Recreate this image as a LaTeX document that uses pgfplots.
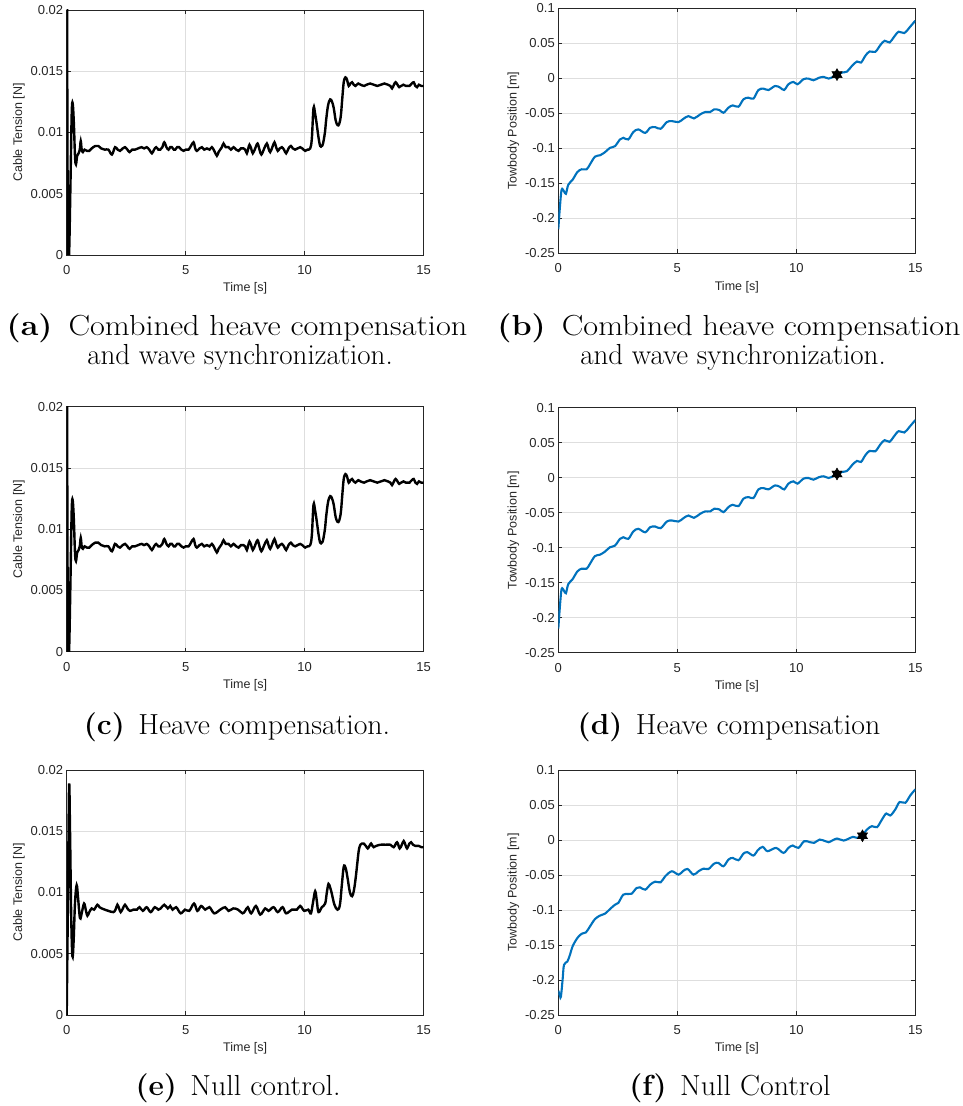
\documentclass[border=0pt]{standalone}
\usepackage{pgfplots}
\pgfplotsset{compat=1.18}
\usepackage{pgfplotstable}
\usepackage{fontspec}
\newfontfamily\arial{Liberation Sans}
\definecolor{mblue}{rgb}{0,0.447,0.741}
\definecolor{axgray}{rgb}{0.15,0.15,0.15}
\definecolor{gridgray}{rgb}{0.87,0.87,0.87}

\pgfdeclareplotmark{hexagram}{%
  \pgfpathmoveto{\pgfqpointpolar{90}{\pgfplotmarksize}}%
  \pgfpathlineto{\pgfqpointpolar{210}{\pgfplotmarksize}}%
  \pgfpathlineto{\pgfqpointpolar{330}{\pgfplotmarksize}}%
  \pgfpathclose
  \pgfpathmoveto{\pgfqpointpolar{270}{\pgfplotmarksize}}%
  \pgfpathlineto{\pgfqpointpolar{30}{\pgfplotmarksize}}%
  \pgfpathlineto{\pgfqpointpolar{150}{\pgfplotmarksize}}%
  \pgfpathclose
  \pgfusepathqfillstroke
}

\pgfplotstableread{
t v
0 0.032
0.05 0.0
0.1 0.0
0.16 0.006
0.21 0.0115
0.25 0.0124
0.3 0.0108
0.35 0.0080
0.39 0.0074
0.44 0.0081
0.5 0.0083
0.55 0.0086
0.59 0.0093
0.63 0.0086
0.68 0.0084
0.75 0.0086
0.85 0.0085
0.95 0.0085
1.05 0.0087
1.2 0.0089
1.33 0.0089
1.45 0.0087
1.6 0.0086
1.75 0.0086
1.9 0.0082
2.03 0.0088
2.14 0.0086
2.24 0.0085
2.35 0.0087
2.45 0.0088
2.55 0.0086
2.64 0.0084
2.75 0.0086
2.87 0.0086
3.0 0.0087
3.15 0.0088
3.25 0.0087
3.36 0.0088
3.47 0.0086
3.58 0.0083
3.67 0.0086
3.76 0.0088
3.85 0.0086
3.93 0.0086
4.02 0.0088
4.1 0.0092
4.19 0.0088
4.28 0.0086
4.35 0.0088
4.42 0.0088
4.5 0.0086
4.56 0.0086
4.64 0.0088
4.72 0.0088
4.82 0.0086
4.91 0.0085
5.0 0.0086
5.12 0.0086
5.22 0.0089
5.33 0.0092
5.4 0.0087
5.47 0.0085
5.58 0.0087
5.68 0.0088
5.78 0.0086
5.89 0.0087
6.0 0.0086
6.1 0.0088
6.2 0.0085
6.31 0.0081
6.38 0.0084
6.45 0.0086
6.52 0.0088
6.59 0.0091
6.68 0.0088
6.8 0.0088
6.9 0.0086
7.01 0.0088
7.12 0.0086
7.22 0.0085
7.32 0.0087
7.43 0.0087
7.5 0.0086
7.57 0.0083
7.63 0.0087
7.68 0.0090
7.75 0.0087
7.82 0.0083
7.92 0.0087
8.02 0.0091
8.1 0.0086
8.18 0.0082
8.3 0.0087
8.41 0.0091
8.48 0.0087
8.55 0.0084
8.64 0.0088
8.73 0.0092
8.8 0.0088
8.87 0.0085
8.95 0.0087
9.04 0.0088
9.13 0.0086
9.22 0.0083
9.32 0.0087
9.42 0.0089
9.5 0.0087
9.6 0.0086
9.7 0.0087
9.81 0.0088
9.9 0.0087
10.02 0.0085
10.12 0.0086
10.23 0.0087
10.3 0.0095
10.37 0.0120
10.44 0.0115
10.51 0.0106
10.58 0.0096
10.65 0.0089
10.72 0.0089
10.77 0.0091
10.85 0.0100
10.9 0.0110
10.98 0.0122
11.07 0.0127
11.15 0.0125
11.22 0.0120
11.3 0.0110
11.38 0.0106
11.45 0.0107
11.52 0.0114
11.58 0.0128
11.64 0.0141
11.71 0.0145
11.78 0.0143
11.85 0.0138
11.92 0.0140
11.99 0.0141
12.06 0.0139
12.13 0.0138
12.25 0.0140
12.35 0.0139
12.5 0.0138
12.6 0.0139
12.75 0.0140
12.9 0.0139
13.05 0.0138
13.2 0.0139
13.35 0.0140
13.5 0.0139
13.6 0.0138
13.67 0.0136
13.75 0.0139
13.82 0.0141
13.9 0.0139
13.97 0.0137
14.05 0.0138
14.15 0.0139
14.25 0.0138
14.4 0.0138
14.5 0.0140
14.58 0.0141
14.65 0.0138
14.72 0.0137
14.8 0.0139
14.9 0.0138
15 0.0138
}\tabA

\pgfplotstableread{
t v
0 0.0
0.05 0.009
0.1 0.0187
0.14 0.015
0.19 0.008
0.24 0.0048
0.29 0.006
0.35 0.0092
0.42 0.0106
0.48 0.0095
0.56 0.0079
0.64 0.0084
0.73 0.0091
0.8 0.0086
0.87 0.0081
0.95 0.0084
1.05 0.0087
1.15 0.0086
1.29 0.0090
1.38 0.0088
1.47 0.0087
1.6 0.0086
1.75 0.0085
1.96 0.0084
2.05 0.0086
2.13 0.0090
2.2 0.0087
2.27 0.0084
2.36 0.0087
2.45 0.0090
2.55 0.0087
2.66 0.0085
2.8 0.0086
2.95 0.0086
3.06 0.0088
3.2 0.0085
3.36 0.0088
3.53 0.0084
3.7 0.0088
3.85 0.0086
3.95 0.0087
4.1 0.0090
4.25 0.0087
4.35 0.0089
4.45 0.0086
4.6 0.0088
4.79 0.0083
4.97 0.0086
5.15 0.0085
5.35 0.0091
5.49 0.0085
5.65 0.0089
5.82 0.0086
6.0 0.0088
6.2 0.0083
6.45 0.0086
6.66 0.0088
6.8 0.0085
7.0 0.0087
7.2 0.0086
7.39 0.0083
7.5 0.0085
7.61 0.0088
7.75 0.0083
7.95 0.0089
8.13 0.0082
8.34 0.0087
8.48 0.0085
8.69 0.0088
8.87 0.0084
9.07 0.0088
9.22 0.0083
9.46 0.0086
9.67 0.0086
9.81 0.0089
9.98 0.0085
10.15 0.0086
10.26 0.0083
10.35 0.0092
10.44 0.0101
10.51 0.0093
10.58 0.0084
10.72 0.0088
10.86 0.0091
10.93 0.0100
11.0 0.0107
11.07 0.0104
11.14 0.0099
11.25 0.0090
11.38 0.0086
11.48 0.0090
11.56 0.0106
11.64 0.0121
11.72 0.0120
11.8 0.0112
11.9 0.0100
11.99 0.0097
12.06 0.0101
12.13 0.0110
12.2 0.0122
12.27 0.0134
12.34 0.0139
12.41 0.0140
12.48 0.0140
12.57 0.0138
12.65 0.0136
12.72 0.0138
12.79 0.0140
12.85 0.0138
12.9 0.0137
13.0 0.0138
13.18 0.0139
13.4 0.0139
13.6 0.0139
13.74 0.0137
13.88 0.0141
13.99 0.0136
14.08 0.0139
14.16 0.0142
14.23 0.0139
14.3 0.0136
14.4 0.0140
14.47 0.0141
14.55 0.0139
14.65 0.0138
14.8 0.0138
14.9 0.0137
15 0.0137
}\tabE

\pgfplotstableread{
t v
0 -0.2156
0.07 -0.183
0.14 -0.159
0.24 -0.1615
0.32 -0.165
0.42 -0.152
0.6 -0.145
0.8 -0.134
0.98 -0.130
1.19 -0.130
1.33 -0.123
1.54 -0.112
1.75 -0.110
1.96 -0.1056
2.17 -0.0994
2.38 -0.097
2.59 -0.0874
2.73 -0.085
2.94 -0.0874
3.15 -0.0769
3.36 -0.073
3.65 -0.078
3.86 -0.0707
4.07 -0.0697
4.3 -0.0721
4.56 -0.0626
4.77 -0.0611
5.05 -0.0626
5.26 -0.0578
5.47 -0.054
5.7 -0.0573
5.96 -0.0516
6.17 -0.0482
6.38 -0.0482
6.55 -0.0444
6.77 -0.0454
6.94 -0.0492
7.15 -0.042
7.33 -0.0387
7.57 -0.0406
7.78 -0.030
7.99 -0.0277
8.2 -0.029
8.41 -0.0167
8.62 -0.0148
8.83 -0.0167
9.11 -0.011
9.32 -0.0133
9.49 -0.0167
9.67 -0.0085
9.88 -0.0052
10.05 -0.0085
10.3 -0.0014
10.51 -0.0004
10.72 -0.0028
10.94 0.0006
11.15 0.002
11.36 -0.0004
11.57 0.0025
11.71 0.0044
11.92 0.0082
12.13 0.0096
12.34 0.0178
12.55 0.024
12.72 0.0225
12.9 0.0321
13.08 0.0383
13.32 0.0378
13.53 0.0474
13.71 0.0536
13.92 0.0512
14.09 0.0584
14.3 0.0665
14.54 0.0646
14.76 0.0727
15 0.0823
}\tabB

\pgfplotstableread{
t v
0 -0.2152
0.07 -0.2228
0.11 -0.2238
0.18 -0.1999
0.24 -0.1784
0.38 -0.1736
0.49 -0.164
0.6 -0.152
0.8 -0.140
0.98 -0.134
1.16 -0.132
1.33 -0.1235
1.54 -0.113
1.75 -0.108
1.96 -0.1053
2.17 -0.0987
2.38 -0.0925
2.52 -0.090
2.73 -0.0781
2.94 -0.0772
3.08 -0.0767
3.29 -0.0686
3.43 -0.0676
3.65 -0.071
3.86 -0.0638
4.07 -0.0595
4.3 -0.0605
4.49 -0.0519
4.77 -0.0447
5.05 -0.0495
5.23 -0.0447
5.43 -0.0414
5.68 -0.0495
5.89 -0.0447
6.1 -0.0409
6.31 -0.0414
6.55 -0.0337
6.73 -0.0328
6.94 -0.0375
7.15 -0.028
7.33 -0.0256
7.57 -0.0289
7.78 -0.0194
7.95 -0.0175
8.2 -0.0222
8.38 -0.0146
8.59 -0.0098
8.79 -0.016
9.15 -0.0113
9.46 -0.0184
9.67 -0.0113
9.85 -0.0079
10.09 -0.0113
10.33 -0.0017
10.58 -0.0032
10.75 -0.0041
10.98 0.0006
11.22 -0.0017
11.36 -0.0032
11.71 0.0021
11.99 -0.0008
12.38 0.0045
12.55 0.0031
12.76 0.0064
12.97 0.015
13.18 0.0198
13.39 0.0183
13.6 0.0293
13.78 0.0379
13.95 0.035
14.16 0.0437
14.34 0.0542
14.58 0.0532
14.79 0.0637
15 0.0723
}\tabF

\pgfplotsset{
  mstyle/.style={
    scale only axis, width=357pt, height=245pt, anchor=south west,
    xmin=0, xmax=15, xtick={0,5,10,15}, xticklabels={0,5,10,15},
    scaled x ticks=false, scaled y ticks=false,
    grid=major, major grid style={line width=0.8pt, draw=gridgray},
    axis line style={line width=0.8pt, draw=axgray},
    tick style={line width=0.8pt, draw=axgray},
    major tick length=4pt, tick align=inside,
    xtick pos=both, ytick pos=both,
    xticklabel pos=lower, yticklabel pos=left,
    ticklabel style={font=\arial\fontsize{13}{15}\selectfont, text=axgray},
    xticklabel style={yshift=-7pt},
    xlabel={Time [s]},
    xlabel style={font=\arial\fontsize{12.5}{15}\selectfont, text=axgray, at={(axis description cs:0.5,-0.137)}, anchor=center},
    ylabel style={font=\arial\fontsize{12.5}{15}\selectfont, text=axgray, anchor=center},
    clip=true,
  },
  tstyle/.style={mstyle, ymin=0, ymax=0.02, ytick={0,0.005,0.01,0.015,0.02},
    yticklabels={0,0.005,0.01,0.015,0.02}, ylabel={Cable Tension [N]},
    ylabel style={at={(axis description cs:-0.134,0.5)}}},
  pstyle/.style={mstyle, ymin=-0.25, ymax=0.1, ytick={-0.25,-0.2,-0.15,-0.1,-0.05,0,0.05,0.1},
    yticklabels={-0.25,-0.2,-0.15,-0.1,-0.05,0,0.05,0.1}, ylabel={Towbody Position [m]},
    ylabel style={at={(axis description cs:-0.126,0.5)}}},
}

\newcommand{\capfont}{\fontsize{29}{29}\selectfont}
% first line of the two-line captions is set wider in the reference
\newcommand{\capwide}[1]{\scalebox{1.112}[1]{\capfont #1}}
\newcommand{\capone}[1]{\scalebox{1.03}[1]{\capfont #1}}

\begin{document}
\begin{tikzpicture}
\useasboundingbox (0,0) rectangle (962pt,1106pt);

% (a)
\begin{axis}[tstyle, at={(66.7pt,851pt)}]
\addplot[black, line width=2.4pt, smooth, tension=0.6] table[x=t,y=v] {\tabA};
\end{axis}
% (b)
\begin{axis}[pstyle, at={(558.3pt,852.7pt)}]
\addplot[mblue, line width=2.1pt, smooth, tension=0.55] table[x=t,y=v] {\tabB};
\addplot[only marks, mark=hexagram, mark size=6pt, draw=black, fill=black] coordinates {(11.71,0.0053)};
\end{axis}
% (c)
\begin{axis}[tstyle, at={(66.7pt,454.3pt)}]
\addplot[black, line width=2.4pt, smooth, tension=0.6] table[x=t,y=v] {\tabA};
\end{axis}
% (d)
\begin{axis}[pstyle, at={(558.3pt,453.3pt)}]
\addplot[mblue, line width=2.1pt, smooth, tension=0.55] table[x=t,y=v] {\tabB};
\addplot[only marks, mark=hexagram, mark size=6pt, draw=black, fill=black] coordinates {(11.71,0.0053)};
\end{axis}
% (e)
\begin{axis}[tstyle, at={(66.7pt,91pt)}]
\addplot[black, line width=2.4pt, smooth, tension=0.6] table[x=t,y=v] {\tabE};
\end{axis}
% (f)
\begin{axis}[pstyle, at={(558.3pt,91pt)}]
\addplot[mblue, line width=2.1pt, smooth, tension=0.55] table[x=t,y=v] {\tabF};
\addplot[only marks, mark=hexagram, mark size=6pt, draw=black, fill=black] coordinates {(12.78,0.0060)};
\end{axis}

% captions
\node[anchor=base, inner sep=0pt] at (237pt,770.3pt) {\capwide{\textbf{(a)}\hspace{0.5em}Combined heave compensation}};
\node[anchor=base, inner sep=0pt] at (240pt,741.7pt) {{\capfont and wave synchronization.}};
\node[anchor=base, inner sep=0pt] at (729pt,770.3pt) {\capwide{\textbf{(b)}\hspace{0.5em}Combined heave compensation}};
\node[anchor=base, inner sep=0pt] at (733pt,741.7pt) {{\capfont and wave synchronization.}};
\node[anchor=base, inner sep=0pt] at (237pt,371pt) {\capone{\textbf{(c)}\hspace{0.45em}Heave compensation.}};
\node[anchor=base, inner sep=0pt] at (729pt,371pt) {\capone{\textbf{(d)}\hspace{0.45em}Heave compensation}};
\node[anchor=base, inner sep=0pt] at (238pt,10pt) {\capone{\textbf{(e)}\hspace{0.45em}Null control.}};
\node[anchor=base, inner sep=0pt] at (730pt,10pt) {\capone{\textbf{(f)}\hspace{0.45em}Null Control}};
\end{tikzpicture}
\end{document}
